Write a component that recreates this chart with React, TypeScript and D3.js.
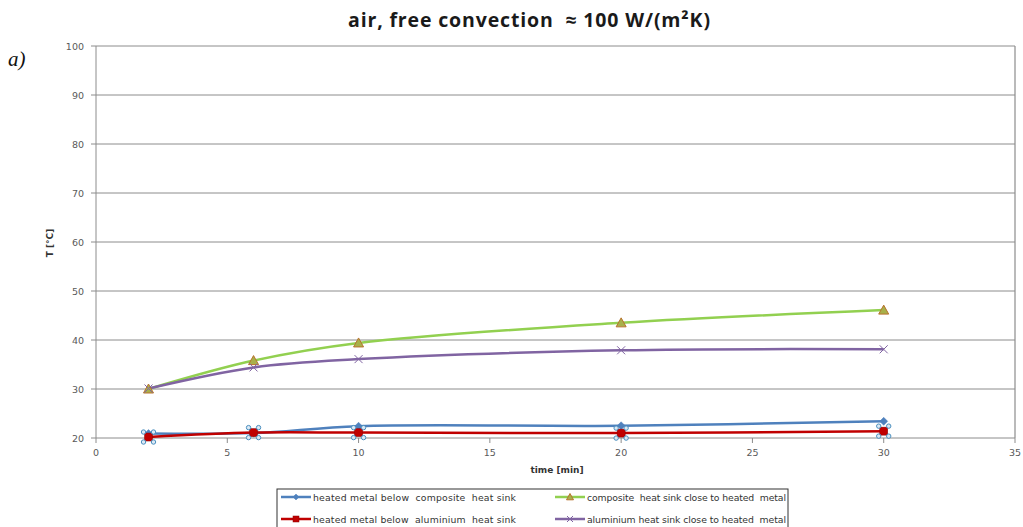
import React from "react";
import * as d3 from "d3";

const times = [2, 6, 10, 20, 30];
const blueVals = [20.9, 21.0, 22.4, 22.5, 23.4];
const redVals = [20.2, 21.1, 21.1, 21.0, 21.4];
const greenVals = [30.0, 35.8, 39.4, 43.5, 46.1];
const purpleVals = [30.1, 34.4, 36.1, 37.9, 38.1];
const xTicks = [0, 5, 10, 15, 20, 25, 30, 35];
const yTicks = [20, 30, 40, 50, 60, 70, 80, 90, 100];
const legendNames = [
  "heated metal below  composite  heat sink",
  "composite  heat sink close to heated  metal",
  "heated metal below  aluminium  heat sink",
  "aluminium heat sink close to heated  metal",
];

const W = 1023, H = 527;
const x = d3.scaleLinear().domain([0, 35]).range([96, 1015]);
const y = d3.scaleLinear().domain([20, 100]).range([438, 46]);

const line = d3
  .line<[number, number]>()
  .x((d) => x(d[0]))
  .y((d) => y(d[1]))
  .curve(d3.curveCatmullRom.alpha(0.5));

const zip = (vals: number[]) => times.map((t, i) => [t, vals[i]] as [number, number]);

const C = {
  blue: "#4f81bd",
  red: "#c00000",
  green: "#92d050",
  purple: "#8064a2",
  grid: "#8c8c8c",
  tick: "#595959",
};

function Diamond({ cx, cy, s = 4 }: { cx: number; cy: number; s?: number }) {
  return (
    <path d={`M${cx},${cy - s}L${cx + s},${cy}L${cx},${cy + s}L${cx - s},${cy}Z`} fill={C.blue} stroke={C.blue} strokeWidth={0.5} />
  );
}
function Square({ cx, cy, s = 4 }: { cx: number; cy: number; s?: number }) {
  return <rect x={cx - s} y={cy - s} width={2 * s} height={2 * s} fill={C.red} stroke="#8b0000" strokeWidth={0.5} />;
}
function Tri({ cx, cy, s = 5 }: { cx: number; cy: number; s?: number }) {
  return (
    <path d={`M${cx},${cy - s}L${cx + s},${cy + s * 0.8}L${cx - s},${cy + s * 0.8}Z`} fill="#a8b04a" stroke="#b8732e" strokeWidth={1} />
  );
}
function Cross({ cx, cy, s = 4 }: { cx: number; cy: number; s?: number }) {
  return (
    <path d={`M${cx - s},${cy - s}L${cx + s},${cy + s}M${cx - s},${cy + s}L${cx + s},${cy - s}`} stroke={C.purple} strokeWidth={1} fill="none" />
  );
}
function Handles({ cx, cy }: { cx: number; cy: number }) {
  const o = 5;
  return (
    <g>
      {[[-o, -o], [o, -o], [-o, o], [o, o]].map(([dx, dy], i) => (
        <circle key={i} cx={cx + dx} cy={cy + dy} r={2.2} fill="#dbe8f4" stroke="#4a8fbf" strokeWidth={1} />
      ))}
    </g>
  );
}

export default function App() {
  const tickFont = { fontFamily: "DejaVu Sans, Verdana, sans-serif", fontSize: 9.5, fill: C.tick };
  const legFont = { fontFamily: "DejaVu Sans, Verdana, sans-serif", fontSize: 9.3, fill: "#333" };
  const legendItems = [
    { name: legendNames[0], color: C.blue, kind: "d", lx: 281, ly: 497, len: 203 },
    { name: legendNames[1], color: C.green, kind: "t", lx: 555, ly: 497, len: 199 },
    { name: legendNames[2], color: C.red, kind: "s", lx: 281, ly: 519, len: 203 },
    { name: legendNames[3], color: C.purple, kind: "x", lx: 555, ly: 519, len: 199 },
  ];
  return (
    <svg width={W} height={H} style={{ position: "absolute", left: 0, top: 0, background: "#fff" }}>
      <rect width={W} height={H} fill="#fff" />
      <text
        x={529}
        y={27}
        textAnchor="middle"
        fontFamily="Open Sans, sans-serif"
        fontWeight={700}
        fontSize={19.5}
        fill="#1a1a1a"
        textLength={362}
        lengthAdjust="spacing"
        style={{ whiteSpace: "pre" }}
      >
        air, free convection  ≈ 100 W/(m²K)
      </text>
      <text x={8} y={66} fontFamily="Liberation Serif, serif" fontStyle="italic" fontSize={21} fill="#111">
        a)
      </text>
      {/* grid */}
      {yTicks.map((t) => (
        <g key={t}>
          <line x1={x(0)} x2={x(35)} y1={y(t)} y2={y(t)} stroke={C.grid} strokeWidth={1} />
          <line x1={x(0) - 5} x2={x(0)} y1={y(t)} y2={y(t)} stroke={C.grid} strokeWidth={1} />
          <text x={84} y={y(t) + 3.5} textAnchor="end" {...tickFont}>
            {t}
          </text>
        </g>
      ))}
      <line x1={x(0)} x2={x(0)} y1={y(100)} y2={y(20)} stroke={C.grid} strokeWidth={1} />
      <line x1={x(35)} x2={x(35)} y1={y(100)} y2={y(20)} stroke={C.grid} strokeWidth={1.2} />
      {xTicks.map((t) => (
        <g key={t}>
          <line x1={x(t)} x2={x(t)} y1={y(20)} y2={y(20) + 5} stroke={C.grid} strokeWidth={1} />
          <text x={x(t)} y={456} textAnchor="middle" {...tickFont}>
            {t}
          </text>
        </g>
      ))}
      <text x={557} y={473} textAnchor="middle" fontFamily="DejaVu Sans, sans-serif" fontWeight={700} fontSize={9} fill="#333">
        time [min]
      </text>
      <text transform={`translate(53,243) rotate(-90)`} textAnchor="middle" fontFamily="DejaVu Sans, sans-serif" fontWeight={700} fontSize={9} fill="#333">
        T [°C]
      </text>
      {/* series */}
      <path d={line(zip(greenVals)) || ""} fill="none" stroke={C.green} strokeWidth={2.5} />
      <path d={line(zip(purpleVals)) || ""} fill="none" stroke={C.purple} strokeWidth={2.5} />
      <path d={line(zip(blueVals)) || ""} fill="none" stroke={C.blue} strokeWidth={2.5} />
      <path d={line(zip(redVals)) || ""} fill="none" stroke={C.red} strokeWidth={2.5} />
      {times.map((t, i) => (
        <g key={t}>
          <Tri cx={x(t)} cy={y(greenVals[i])} />
          <Cross cx={x(t)} cy={y(purpleVals[i])} />
          <Diamond cx={x(t)} cy={y(blueVals[i])} />
          <Square cx={x(t)} cy={y(redVals[i])} />
          <Handles cx={x(t)} cy={y(redVals[i])} />
        </g>
      ))}
      {/* legend */}
      <rect x={277} y={489} width={511} height={40} fill="#fff" stroke="#333" strokeWidth={1} />
      {legendItems.map((it, i) => (
        <g key={i}>
          <line x1={it.lx} x2={it.lx + 30} y1={it.ly} y2={it.ly} stroke={it.color} strokeWidth={2.5} />
          {it.kind === "d" && <Diamond cx={it.lx + 15} cy={it.ly} s={3} />}
          {it.kind === "s" && <Square cx={it.lx + 15} cy={it.ly} s={3} />}
          {it.kind === "t" && <Tri cx={it.lx + 15} cy={it.ly} s={3.5} />}
          {it.kind === "x" && <Cross cx={it.lx + 15} cy={it.ly} s={3} />}
          <text
            x={it.lx + 32}
            y={it.ly + 3.5}
            {...legFont}
            textLength={it.len}
            lengthAdjust="spacing"
            style={{ whiteSpace: "pre" }}
          >
            {it.name}
          </text>
        </g>
      ))}
    </svg>
  );
}
